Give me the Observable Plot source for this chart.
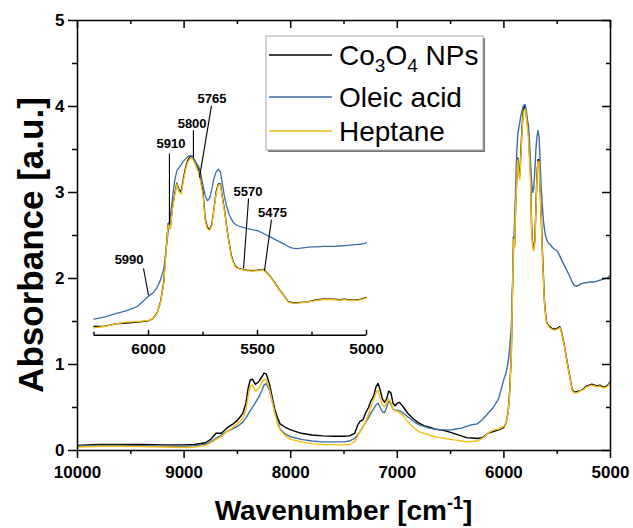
<!DOCTYPE html>
<html><head><meta charset="utf-8">
<script src="https://cdn.jsdelivr.net/npm/d3@7"></script>
<script src="https://cdn.jsdelivr.net/npm/@observablehq/plot@0.6"></script>
<style>
body{margin:0;background:#fff;}
#wrap{position:relative;width:633px;height:528px;overflow:hidden;}
#wrap svg{position:absolute;left:0;top:0;}
</style></head><body><div id="wrap"></div>
<script>
// ---------- data ----------
const wavenumber = [10000, 9800, 9600, 9400, 9200, 9000, 8900, 8800, 8750, 8700,
 8650, 8600, 8550, 8500, 8450, 8420, 8400, 8380, 8360, 8330,
 8300, 8270, 8250, 8230, 8200, 8170, 8150, 8120, 8100, 8050,
 8000, 7900, 7800, 7700, 7600, 7500, 7450, 7400, 7370, 7350,
 7320, 7300, 7270, 7250, 7220, 7200, 7180, 7160, 7140, 7120,
 7100, 7080, 7060, 7040, 7020, 7000, 6980, 6960, 6940, 6900,
 6850, 6800, 6750, 6700, 6650, 6600, 6550, 6500, 6450, 6400,
 6350, 6300, 6250, 6200, 6150, 6100, 6050, 6000, 5980, 5960,
 5945, 5930, 5920, 5910, 5900, 5890, 5880, 5870, 5860, 5850,
 5840, 5830, 5820, 5810, 5800, 5790, 5780, 5770, 5760, 5750,
 5740, 5730, 5720, 5710, 5700, 5690, 5680, 5670, 5660, 5650,
 5640, 5630, 5620, 5610, 5600, 5590, 5580, 5570, 5550, 5525,
 5500, 5475, 5460, 5440, 5420, 5400, 5380, 5360, 5340, 5320,
 5300, 5275, 5250, 5225, 5200, 5175, 5150, 5125, 5100, 5075,
 5050, 5025, 5000];

const co3o4 = [0.06, 0.07, 0.07, 0.07, 0.065, 0.065, 0.07, 0.09, 0.13, 0.20,
 0.20, 0.26, 0.30, 0.35, 0.43, 0.55, 0.72, 0.82, 0.83, 0.77,
 0.80, 0.86, 0.90, 0.89, 0.78, 0.60, 0.48, 0.37, 0.31, 0.27,
 0.24, 0.20, 0.18, 0.17, 0.165, 0.165, 0.17, 0.20, 0.30, 0.34,
 0.36, 0.43, 0.50, 0.57, 0.64, 0.74, 0.78, 0.70, 0.60, 0.56,
 0.60, 0.69, 0.67, 0.55, 0.52, 0.55, 0.56, 0.53, 0.50, 0.43,
 0.37, 0.32, 0.29, 0.27, 0.25, 0.24, 0.23, 0.21, 0.19, 0.17,
 0.15, 0.145, 0.14, 0.15, 0.20, 0.22, 0.24, 0.27, 0.32, 0.45,
 0.70, 1.15, 1.85, 2.48, 2.38, 2.85, 3.15, 3.40, 3.25, 3.20,
 3.50, 3.75, 3.92, 4.00, 4.00, 3.90, 3.80, 3.70, 3.45, 3.20,
 2.60, 2.40, 2.34, 2.45, 2.80, 3.20, 3.38, 3.38, 3.05, 2.75,
 2.35, 2.05, 1.75, 1.60, 1.50, 1.47, 1.45, 1.44, 1.42, 1.41,
 1.42, 1.44, 1.38, 1.27, 1.13, 0.98, 0.85, 0.71, 0.68, 0.68,
 0.69, 0.70, 0.72, 0.75, 0.76, 0.77, 0.76, 0.75, 0.76, 0.74,
 0.74, 0.76, 0.80];

const oleic = [0.05, 0.06, 0.06, 0.055, 0.05, 0.05, 0.055, 0.07, 0.10, 0.14,
 0.18, 0.22, 0.25, 0.28, 0.33, 0.38, 0.42, 0.46, 0.50, 0.56,
 0.62, 0.70, 0.76, 0.78, 0.70, 0.56, 0.45, 0.32, 0.25, 0.19,
 0.16, 0.13, 0.11, 0.10, 0.10, 0.10, 0.11, 0.14, 0.18, 0.22,
 0.28, 0.32, 0.38, 0.43, 0.49, 0.53, 0.55, 0.50, 0.45, 0.44,
 0.50, 0.58, 0.54, 0.48, 0.47, 0.47, 0.46, 0.45, 0.43, 0.39,
 0.34, 0.30, 0.28, 0.26, 0.25, 0.24, 0.24, 0.24, 0.25, 0.26,
 0.28, 0.30, 0.31, 0.36, 0.43, 0.50, 0.60, 0.83, 0.90, 1.03,
 1.20, 1.45, 1.85, 2.30, 2.65, 3.05, 3.45, 3.68, 3.75, 3.82,
 3.90, 3.95, 4.00, 4.02, 4.02, 3.95, 3.85, 3.78, 3.60, 3.35,
 3.12, 3.00, 3.05, 3.25, 3.50, 3.65, 3.72, 3.65, 3.35, 3.05,
 2.85, 2.68, 2.58, 2.50, 2.46, 2.43, 2.41, 2.40, 2.37, 2.34,
 2.32, 2.26, 2.22, 2.17, 2.12, 2.07, 2.02, 1.96, 1.92, 1.91,
 1.92, 1.94, 1.95, 1.95, 1.96, 1.96, 1.96, 1.97, 1.98, 1.99,
 2.00, 2.01, 2.04];

const heptane = [0.04, 0.05, 0.05, 0.045, 0.04, 0.035, 0.04, 0.06, 0.09, 0.13,
 0.16, 0.22, 0.26, 0.31, 0.37, 0.47, 0.62, 0.74, 0.76, 0.69,
 0.72, 0.79, 0.83, 0.82, 0.72, 0.55, 0.43, 0.30, 0.24, 0.17,
 0.13, 0.10, 0.08, 0.07, 0.065, 0.065, 0.07, 0.10, 0.17, 0.22,
 0.28, 0.33, 0.42, 0.50, 0.60, 0.67, 0.70, 0.60, 0.53, 0.51,
 0.55, 0.60, 0.56, 0.48, 0.46, 0.46, 0.44, 0.42, 0.40, 0.33,
 0.27, 0.22, 0.20, 0.18, 0.16, 0.15, 0.14, 0.13, 0.12, 0.11,
 0.10, 0.105, 0.11, 0.14, 0.20, 0.24, 0.25, 0.28, 0.32, 0.44,
 0.68, 1.12, 1.80, 2.45, 2.36, 2.82, 3.12, 3.38, 3.20, 3.15,
 3.45, 3.70, 3.88, 3.96, 3.97, 3.88, 3.76, 3.64, 3.40, 3.12,
 2.55, 2.36, 2.32, 2.42, 2.78, 3.15, 3.36, 3.36, 3.02, 2.72,
 2.32, 2.02, 1.72, 1.58, 1.48, 1.46, 1.44, 1.43, 1.41, 1.40,
 1.41, 1.43, 1.37, 1.26, 1.12, 0.97, 0.84, 0.70, 0.67, 0.67,
 0.68, 0.70, 0.71, 0.74, 0.75, 0.76, 0.75, 0.74, 0.75, 0.73,
 0.73, 0.75, 0.79];

const seriesNames = ["Co3O4 NPs", "Oleic acid", "Heptane"];
const seriesColors = ["#000000", "#3b6ea6", "#f8bd12"];

const xMajor = [10000, 9000, 8000, 7000, 6000, 5000];
const xMinor = [9500, 8500, 7500, 6500, 5500];
const yMajor = [0, 1, 2, 3, 4, 5];
const yMinor = [0.5, 1.5, 2.5, 3.5, 4.5];

// inset
const insetXDomain = [6250, 5000];
const insetYDomain = [-0.06, 4];
const insetMajor = [6000, 5500, 5000];
const insetMinor = [6250, 5750, 5250];

// peak annotations (inset data units)
const annLabels = ["5990", "5910", "5800", "5765", "5570", "5475"];
const annTextW  = [6089, 5897, 5800, 5709, 5544, 5431];
const annTextV  = [1.55, 4.19, 4.66, 5.23, 3.10, 2.62];
const annFromW  = [6023, 5904, 5794, 5711, 5541, 5436];
const annFromV  = [1.46, 4.07, 4.60, 5.16, 3.05, 2.57];
const annToW    = [6000, 5904, 5794, 5766, 5564, 5468];
const annToV    = [0.85, 2.48, 3.98, 3.53, 1.46, 1.41];

// ---------- build ----------
const FONT = "'Liberation Sans', Arial, Helvetica, sans-serif";
const W = 633, H = 528;
const M = {top: 20, right: 23, bottom: 78, left: 77};
const plotW = W - M.left - M.right, plotH = H - M.top - M.bottom;

const seriesValues = [co3o4, oleic, heptane];
const seriesRows = seriesValues.map(vals => wavenumber.map((w, i) => ({w, v: vals[i]})));
const anns = annLabels.map((label, i) => ({label, tw: annTextW[i], tv: annTextV[i],
  fw: annFromW[i], fv: annFromV[i], ew: annToW[i], ev: annToV[i]}));

const lw = 1.5;
const main = Plot.plot({
  width: W, height: H,
  marginTop: M.top, marginRight: M.right, marginBottom: M.bottom, marginLeft: M.left,
  style: {fontFamily: FONT, background: "white", color: "black"},
  x: {domain: [10000, 5000], label: null},
  y: {domain: [0, 5], label: null},
  marks: [
    ...seriesRows.map((rows, k) => Plot.line(rows, {x: "w", y: "v", stroke: seriesColors[k], strokeWidth: 1.4})),
    Plot.frame({stroke: "black", strokeWidth: lw}),
    Plot.axisX(xMajor, {anchor: "bottom", tickSize: 8, tickPadding: 7, strokeWidth: lw,
      tickFormat: d => String(d), fontSize: 17, fontWeight: "bold", label: null}),
    Plot.tickX(xMinor, {x: d => d, insetTop: plotH, insetBottom: -4, strokeWidth: lw}),
    Plot.tickX(xMajor, {x: d => d, insetBottom: plotH - 8, strokeWidth: lw}),
    Plot.tickX(xMinor, {x: d => d, insetBottom: plotH - 4, strokeWidth: lw}),
    Plot.axisY(yMajor, {anchor: "left", tickSize: 9, tickPadding: 4, strokeWidth: lw,
      tickFormat: d => String(d), fontSize: 17, fontWeight: "bold", label: null}),
    Plot.tickY(yMinor, {y: d => d, insetRight: plotW, insetLeft: -5, strokeWidth: lw}),
    Plot.tickY(yMajor, {y: d => d, insetLeft: plotW - 8, strokeWidth: lw}),
    Plot.tickY(yMinor, {y: d => d, insetLeft: plotW - 4, strokeWidth: lw})
  ]
});

const iTop = 156.2, iBottom = 334.8, iLeft = 93.5, iRight = 366;
const iH = iBottom - iTop;
const insetRows = seriesRows.map(rows => rows.filter(d => d.w <= insetXDomain[0]));
const inset = Plot.plot({
  width: W, height: H,
  marginTop: iTop, marginBottom: H - iBottom, marginLeft: iLeft, marginRight: W - iRight,
  style: {fontFamily: FONT, background: "transparent", color: "black", overflow: "visible"},
  x: {domain: insetXDomain, label: null},
  y: {domain: insetYDomain, label: null, axis: null},
  marks: [
    ...insetRows.map((rows, k) => Plot.line(rows, {x: "w", y: "v", stroke: seriesColors[k], strokeWidth: 1.3})),
    Plot.ruleY([insetYDomain[0]], {stroke: "black", strokeWidth: lw}),
    Plot.tickX(insetMajor, {x: d => d, insetTop: iH - 5, strokeWidth: lw}),
    Plot.tickX(insetMinor, {x: d => d, insetTop: iH - 3, strokeWidth: lw}),
    Plot.axisX(insetMajor, {anchor: "bottom", tickSize: 0, tickPadding: 8,
      tickFormat: d => String(d), fontSize: 15.5, fontWeight: "bold", label: null}),
    Plot.link(anns, {x1: "fw", y1: "fv", x2: "ew", y2: "ev", stroke: "black", strokeWidth: 1.1}),
    Plot.text(anns, {x: "tw", y: "tv", text: "label", lineAnchor: "bottom", fontSize: 13, fontWeight: "bold", fill: "black"})
  ]
});

const wrap = document.getElementById("wrap");
wrap.appendChild(main);
wrap.appendChild(inset);

// axis titles
const svg = d3.select(main);
const xt = svg.append("text").attr("x", M.left + plotW / 2).attr("y", 520)
  .attr("text-anchor", "middle").attr("font-family", FONT).attr("font-weight", "bold")
  .attr("font-size", 28).attr("fill", "black");
xt.append("tspan").text("Wavenumber [cm");
xt.append("tspan").attr("font-size", 18).attr("dy", -11).text("-1");
xt.append("tspan").attr("dy", 11).text("]");

svg.append("text").attr("transform", "translate(43,245) rotate(-90)")
  .attr("text-anchor", "middle").attr("font-family", FONT).attr("font-weight", "bold")
  .attr("font-size", 35).attr("fill", "black").text("Absorbance [a.u.]");

// legend
const lg = d3.select(inset).append("g").attr("font-family", FONT).attr("text-anchor", "start");
const LX = 266, LY = 36, LW = 217, LH = 114;
lg.append("rect").attr("x", LX + 2).attr("y", LY + 2).attr("width", LW).attr("height", LH).attr("fill", "#7a7a7a");
lg.append("rect").attr("x", LX).attr("y", LY).attr("width", LW).attr("height", LH)
  .attr("fill", "white").attr("stroke", "#a8a8a8").attr("stroke-width", 1);
const rowY = [55, 97, 131];
seriesNames.forEach((name, i) => {
  lg.append("line").attr("x1", 269).attr("x2", 332).attr("y1", rowY[i]).attr("y2", rowY[i])
    .attr("stroke", seriesColors[i]).attr("stroke-width", 1.5);
  const t = lg.append("text").attr("x", 339).attr("y", rowY[i]).attr("dy", "0.34em")
    .attr("text-anchor", "start").attr("font-size", 28).attr("fill", "black");
  if (i === 0) {
    t.append("tspan").text("Co");
    t.append("tspan").attr("font-size", 19).attr("dy", 7).text("3");
    t.append("tspan").attr("dy", -7).text("O");
    t.append("tspan").attr("font-size", 19).attr("dy", 7).text("4");
    t.append("tspan").attr("dy", -7).text("\u00a0NPs");
  } else {
    t.text(name);
  }
});
</script>
</body></html>
